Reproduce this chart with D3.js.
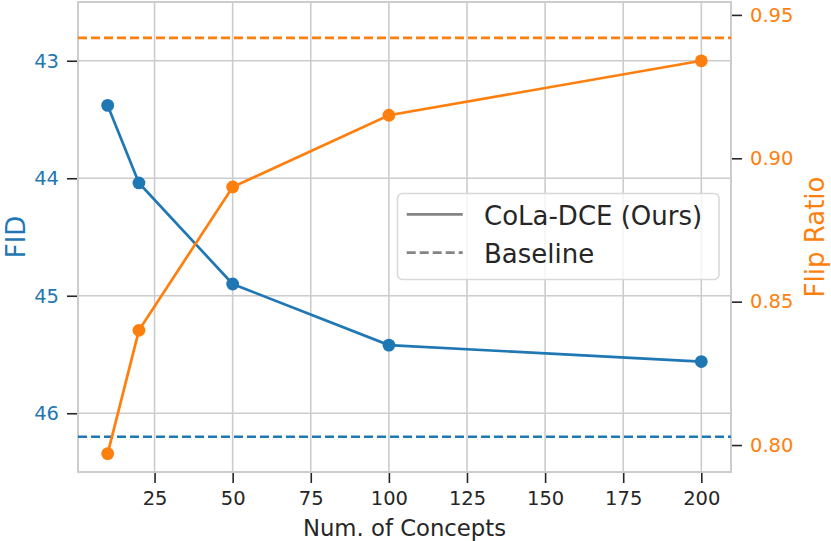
<!DOCTYPE html>
<html>
<head>
<meta charset="utf-8">
<script src="https://cdn.jsdelivr.net/npm/d3@7"></script>
<style>
  html, body { margin: 0; padding: 0; background: #fff; }
  svg { display: block; font-family: "DejaVu Sans", sans-serif; }
</style>
</head>
<body>
<svg id="chart" width="831" height="541"></svg>
<script>
// ---- data ----
const concepts = [10, 20, 50, 100, 200];
const fidValues = [43.38, 44.04, 44.90, 45.42, 45.56];
const flipValues = [0.797, 0.840, 0.890, 0.915, 0.934];
const fidBaseline = 46.20;
const flipBaseline = 0.942;
const xTicks = [25, 50, 75, 100, 125, 150, 175, 200];
const fidTicks = [43, 44, 45, 46];
const flipTicks = [0.80, 0.85, 0.90, 0.95];
const legendLabels = ["CoLa-DCE (Ours)", "Baseline"];

// ---- layout ----
const W = 831, H = 541;
const L = 78, R = 731, T = 2, B = 472;
const blue = "#1f77b4", orange = "#ff7f0e", grid = "#cccccc", dark = "#262626";

const svg = d3.select("#chart");

const x = d3.scaleLinear().domain([0.5, 209.5]).range([L, R]);
const yL = d3.scaleLinear().domain([42.5, 46.5]).range([T, B]); // inverted FID
const yR = d3.scaleLinear().domain([0.7906, 0.9545]).range([B, T]);

// grid
const g = svg.append("g");
g.selectAll("line.vg").data(xTicks).join("line")
  .attr("x1", d => x(d)).attr("x2", d => x(d))
  .attr("y1", T).attr("y2", B)
  .attr("stroke", grid).attr("stroke-width", 1.6);
g.selectAll("line.hg").data(fidTicks).join("line")
  .attr("x1", L).attr("x2", R)
  .attr("y1", d => yL(d)).attr("y2", d => yL(d))
  .attr("stroke", grid).attr("stroke-width", 1.6);

// axes
const fmtInt = d3.format("d");
const bottomAxis = d3.axisBottom(x).tickValues(xTicks).tickFormat(fmtInt).tickSize(10).tickPadding(8);
const leftAxis = d3.axisLeft(yL).tickValues(fidTicks).tickFormat(fmtInt).tickSize(10).tickPadding(8);
const rightAxis = d3.axisRight(yR).tickValues(flipTicks).tickFormat(d3.format(".2f")).tickSize(10).tickPadding(8);

function styleAxis(sel, color) {
  sel.select(".domain").remove();
  sel.selectAll(".tick line").attr("stroke", dark).attr("stroke-width", 1.6);
  sel.selectAll(".tick text").attr("fill", color)
    .style("font-family", "DejaVu Sans").style("font-size", "19.5px");
}

svg.append("g").attr("transform", `translate(0,${B + 1})`).call(bottomAxis).call(s => styleAxis(s, dark));
svg.append("g").attr("transform", `translate(${L - 1},0)`).call(leftAxis).call(s => styleAxis(s, blue));
svg.append("g").attr("transform", `translate(${R + 1},0)`).call(rightAxis).call(s => styleAxis(s, orange));

// frame (spines)
svg.append("rect").attr("x", L).attr("y", T).attr("width", R - L).attr("height", B - T)
  .attr("fill", "none").attr("stroke", grid).attr("stroke-width", 2);

// baselines
svg.append("line").attr("x1", L).attr("x2", R)
  .attr("y1", yL(fidBaseline)).attr("y2", yL(fidBaseline))
  .attr("stroke", blue).attr("stroke-width", 2.6).attr("stroke-dasharray", "9,4");
svg.append("line").attr("x1", L).attr("x2", R)
  .attr("y1", yR(flipBaseline)).attr("y2", yR(flipBaseline))
  .attr("stroke", orange).attr("stroke-width", 2.6).attr("stroke-dasharray", "9,4");

// series
const fidData = concepts.map((c, i) => ({ x: c, y: fidValues[i] }));
const flipData = concepts.map((c, i) => ({ x: c, y: flipValues[i] }));

svg.append("path").datum(fidData)
  .attr("fill", "none").attr("stroke", blue).attr("stroke-width", 2.7)
  .attr("d", d3.line().x(d => x(d.x)).y(d => yL(d.y)));
svg.selectAll("circle.fid").data(fidData).join("circle")
  .attr("cx", d => x(d.x)).attr("cy", d => yL(d.y)).attr("r", 6.4).attr("fill", blue);

svg.append("path").datum(flipData)
  .attr("fill", "none").attr("stroke", orange).attr("stroke-width", 2.7)
  .attr("d", d3.line().x(d => x(d.x)).y(d => yR(d.y)));
svg.selectAll("circle.flip").data(flipData).join("circle")
  .attr("cx", d => x(d.x)).attr("cy", d => yR(d.y)).attr("r", 6.4).attr("fill", orange);

// axis labels
svg.append("text").attr("x", (L + R) / 2).attr("y", 535.5).attr("text-anchor", "middle")
  .attr("fill", dark).style("font-size", "22.75px").text("Num. of Concepts");
svg.append("text").attr("transform", `translate(25,${(T + B) / 2}) rotate(-90)`)
  .attr("text-anchor", "middle").attr("fill", blue).style("font-size", "26px").text("FID");
svg.append("text").attr("transform", `translate(824,${(T + B) / 2}) rotate(-90)`)
  .attr("text-anchor", "middle").attr("fill", orange).style("font-size", "26px").text("Flip Ratio");

// legend
const lg = svg.append("g");
lg.append("rect").attr("x", 397.5).attr("y", 193.5).attr("width", 321.5).attr("height", 86)
  .attr("rx", 5).attr("fill", "white").attr("fill-opacity", 0.8)
  .attr("stroke", "#d9d9d9").attr("stroke-width", 1.6);
const legendDash = [null, "9,4"];
const legendY = [214.3, 252.7];
legendLabels.forEach((lab, i) => {
  lg.append("line").attr("x1", 406.7).attr("x2", 462.7)
    .attr("y1", legendY[i]).attr("y2", legendY[i])
    .attr("stroke", "#858585").attr("stroke-width", 2.7)
    .attr("stroke-dasharray", legendDash[i]);
  lg.append("text").attr("x", 484).attr("y", legendY[i] + 10.6)
    .attr("fill", dark).style("font-size", "26px").text(lab);
});
</script>
</body>
</html>
